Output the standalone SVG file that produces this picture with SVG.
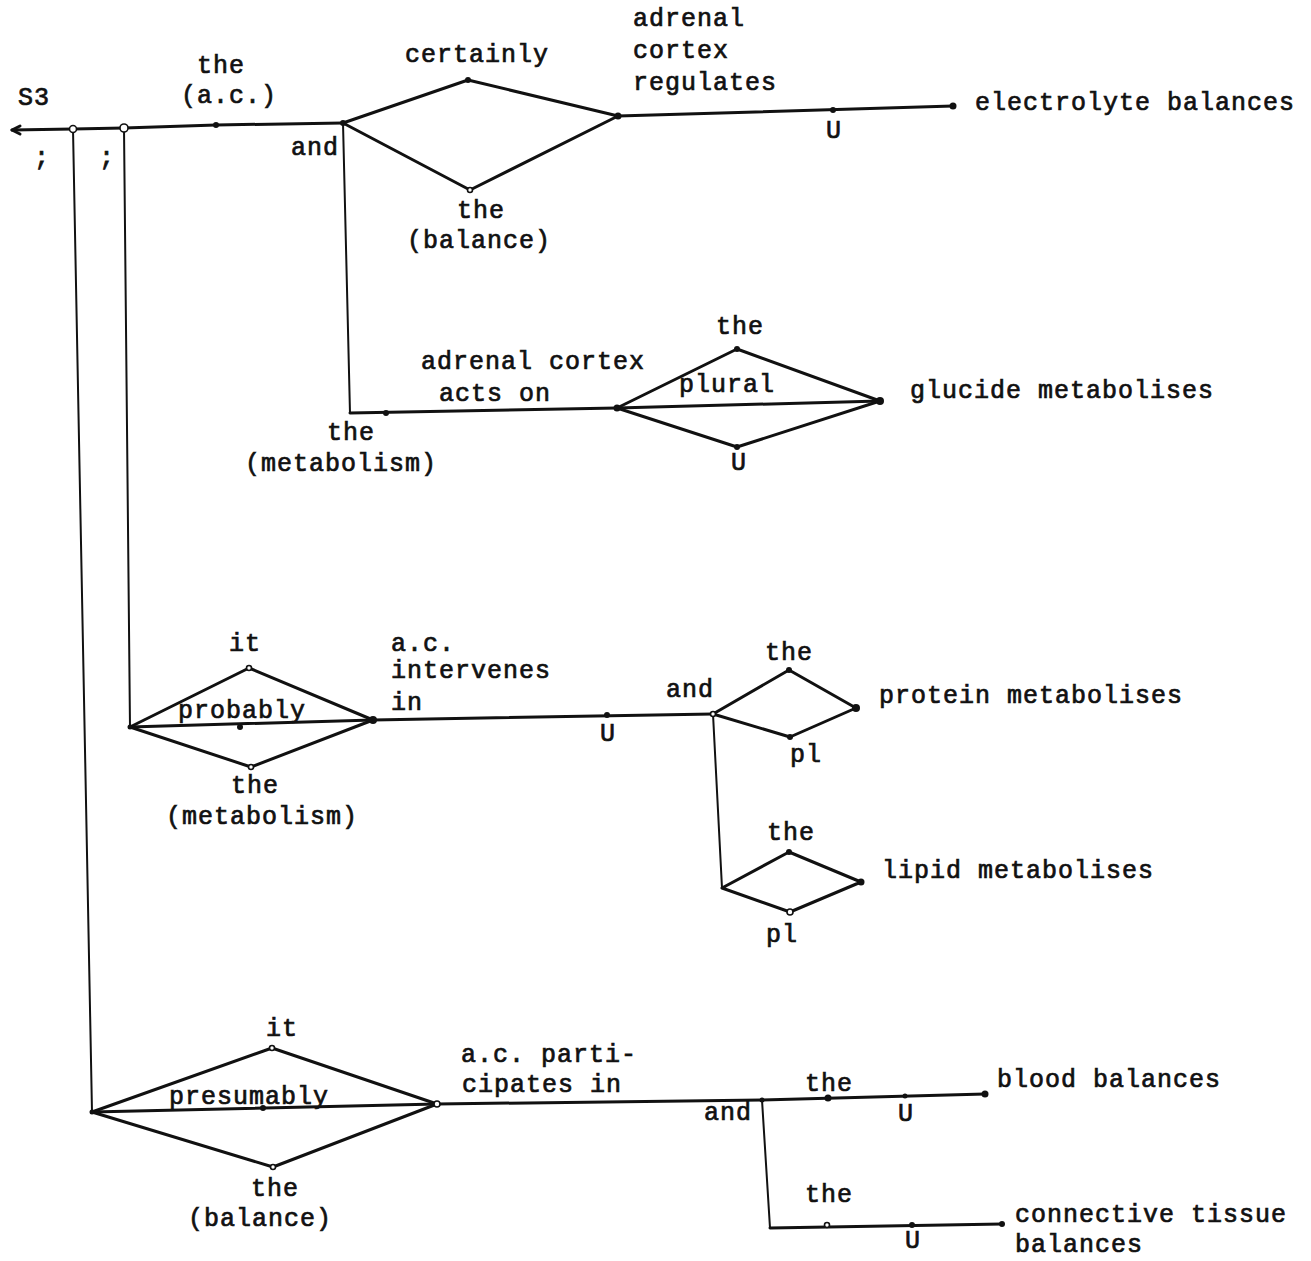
<svg xmlns="http://www.w3.org/2000/svg" width="1311" height="1261" viewBox="0 0 1311 1261">
<style>
.t{font-family:"Liberation Mono","DejaVu Sans Mono",monospace;font-size:25px;letter-spacing:1px;fill:#111;stroke:#111;stroke-width:0.7px}
.l{fill:none;stroke:#111;stroke-width:3;stroke-linejoin:round;stroke-linecap:round}
.v{fill:none;stroke:#111;stroke-width:2;stroke-linecap:round}
.d{fill:#111}
.h{fill:#fff;stroke:#111;stroke-width:1.6}
</style>
<rect width="1311" height="1261" fill="#fff"/>
<g id="connectors">
  <polyline class="l" points="12,130 73,129 124,128 216,125 343,123"/>
  <path class="l" d="M12,130 l8,-4 M12,130 l8,4"/>
  <line class="v" x1="73" y1="129" x2="92" y2="1112"/>
  <line class="v" x1="124" y1="128" x2="130" y2="727"/>
  <line class="v" x1="343" y1="123" x2="350" y2="413"/>
  <polygon class="l" points="343,123 468,80 618,116 470,190"/>
  <line class="l" x1="618" y1="116" x2="953" y2="106"/>
  <line class="l" x1="350" y1="413" x2="617" y2="408"/>
  <polygon class="l" points="617,408 737,349 880,401 737,447"/>
  <line class="l" x1="617" y1="408" x2="880" y2="401"/>
  <polygon class="l" points="130,727 249,668 373,720 251,767"/>
  <line class="l" x1="130" y1="727" x2="373" y2="720"/>
  <line class="l" x1="373" y1="720" x2="713" y2="714"/>
  <polygon class="l" points="713,714 789,670 856,708 790,737"/>
  <line class="v" x1="713" y1="714" x2="722" y2="888"/>
  <polygon class="l" points="722,888 789,852 861,882 790,912"/>
  <polygon class="l" points="92,1112 272,1048 437,1104 273,1167"/>
  <line class="l" x1="92" y1="1112" x2="437" y2="1104"/>
  <line class="l" x1="437" y1="1104" x2="762" y2="1100"/>
  <line class="l" x1="762" y1="1100" x2="985" y2="1094"/>
  <line class="v" x1="762" y1="1100" x2="770" y2="1228"/>
  <line class="l" x1="770" y1="1228" x2="1002" y2="1224"/>
</g>
<g id="nodes">
  <g id="n-s3"><text class="t" x="18" y="105">S3</text><text class="t" x="34" y="165">;</text><text class="t" x="99" y="165">;</text>
    <circle class="h" cx="73" cy="129" r="3.5"/><circle class="h" cx="124" cy="128" r="4"/></g>
  <g id="n-ac"><circle class="d" cx="216" cy="125" r="3"/><text class="t" x="197" y="73">the</text><text class="t" x="181" y="103">(a.c.)</text></g>
  <g id="n-and1"><circle class="d" cx="343" cy="123" r="3"/><text class="t" x="291" y="155">and</text></g>
  <g id="n-certainly"><circle class="d" cx="468" cy="80" r="3"/><text class="t" x="405" y="62">certainly</text></g>
  <g id="n-balance1"><circle class="h" cx="470" cy="190" r="2.5"/><text class="t" x="457" y="218">the</text><text class="t" x="407" y="248">(balance)</text></g>
  <g id="n-regulates"><circle class="d" cx="618" cy="116" r="3.5"/><text class="t" x="633" y="26">adrenal</text><text class="t" x="633" y="58">cortex</text><text class="t" x="633" y="90">regulates</text></g>
  <g id="n-u1"><circle class="d" cx="833" cy="110" r="3"/><text class="t" x="826" y="138">U</text></g>
  <g id="n-electrolyte"><circle class="d" cx="953" cy="106" r="3.5"/><text class="t" x="975" y="110">electrolyte balances</text></g>
  <g id="n-metab1"><circle class="d" cx="386" cy="413" r="3"/><text class="t" x="327" y="440">the</text><text class="t" x="245" y="471">(metabolism)</text></g>
  <g id="n-actson"><circle class="d" cx="617" cy="408" r="3.5"/><text class="t" x="421" y="369">adrenal cortex</text><text class="t" x="439" y="401">acts on</text></g>
  <g id="n-the2"><circle class="d" cx="737" cy="349" r="3"/><text class="t" x="716" y="334">the</text><text class="t" x="679" y="392">plural</text></g>
  <g id="n-u2"><circle class="d" cx="737" cy="447" r="3"/><text class="t" x="731" y="470">U</text></g>
  <g id="n-glucide"><circle class="d" cx="880" cy="401" r="4"/><text class="t" x="910" y="398">glucide metabolises</text></g>
  <g id="n-it1"><circle class="h" cx="249" cy="668" r="2.5"/><text class="t" x="229" y="651">it</text></g>
  <g id="n-probably"><circle class="d" cx="130" cy="727" r="2.5"/><circle class="d" cx="240" cy="727" r="3"/><text class="t" x="178" y="718">probably</text></g>
  <g id="n-metab2"><circle class="h" cx="251" cy="767" r="2.5"/><text class="t" x="231" y="793">the</text><text class="t" x="166" y="824">(metabolism)</text></g>
  <g id="n-intervenes"><circle class="d" cx="373" cy="720" r="4"/><text class="t" x="391" y="651">a.c.</text><text class="t" x="391" y="678">intervenes</text><text class="t" x="391" y="710">in</text></g>
  <g id="n-u3"><circle class="d" cx="607" cy="715" r="3"/><text class="t" x="600" y="741">U</text></g>
  <g id="n-and2"><circle class="h" cx="713" cy="714" r="2.5"/><text class="t" x="666" y="697">and</text></g>
  <g id="n-the3"><circle class="d" cx="789" cy="670" r="3"/><text class="t" x="765" y="660">the</text></g>
  <g id="n-pl1"><circle class="d" cx="790" cy="737" r="3"/><text class="t" x="790" y="762">pl</text></g>
  <g id="n-protein"><circle class="d" cx="856" cy="708" r="4"/><text class="t" x="879" y="703">protein metabolises</text></g>
  <g id="n-the4"><circle class="d" cx="789" cy="852" r="3"/><text class="t" x="767" y="840">the</text></g>
  <g id="n-pl2"><circle class="h" cx="790" cy="912" r="3"/><text class="t" x="766" y="942">pl</text></g>
  <g id="n-lipid"><circle class="d" cx="861" cy="882" r="3.5"/><text class="t" x="882" y="878">lipid metabolises</text></g>
  <g id="n-it2"><circle class="h" cx="272" cy="1048" r="2.5"/><text class="t" x="266" y="1036">it</text></g>
  <g id="n-presumably"><circle class="d" cx="92" cy="1112" r="2.5"/><circle class="d" cx="263" cy="1108" r="3"/><text class="t" x="169" y="1104">presumably</text></g>
  <g id="n-balance2"><circle class="h" cx="273" cy="1167" r="2.5"/><text class="t" x="251" y="1196">the</text><text class="t" x="188" y="1226">(balance)</text></g>
  <g id="n-participates"><circle class="h" cx="437" cy="1104" r="3"/><text class="t" x="461" y="1062">a.c. parti-</text><text class="t" x="462" y="1092">cipates in</text></g>
  <g id="n-and3"><circle class="d" cx="762" cy="1100" r="2.5"/><text class="t" x="704" y="1120">and</text></g>
  <g id="n-the5"><circle class="d" cx="828" cy="1098" r="3.5"/><text class="t" x="805" y="1091">the</text></g>
  <g id="n-u4"><circle class="d" cx="905" cy="1096" r="2.5"/><text class="t" x="898" y="1121">U</text></g>
  <g id="n-blood"><circle class="d" cx="985" cy="1094" r="3.5"/><text class="t" x="997" y="1087">blood balances</text></g>
  <g id="n-the6"><circle class="h" cx="827" cy="1225" r="2.5"/><text class="t" x="805" y="1202">the</text></g>
  <g id="n-u5"><circle class="d" cx="912" cy="1225" r="3"/><text class="t" x="905" y="1248">U</text></g>
  <g id="n-connective"><circle class="d" cx="1002" cy="1224" r="3"/><text class="t" x="1015" y="1222">connective tissue</text><text class="t" x="1015" y="1252">balances</text></g>
</g>
</svg>
